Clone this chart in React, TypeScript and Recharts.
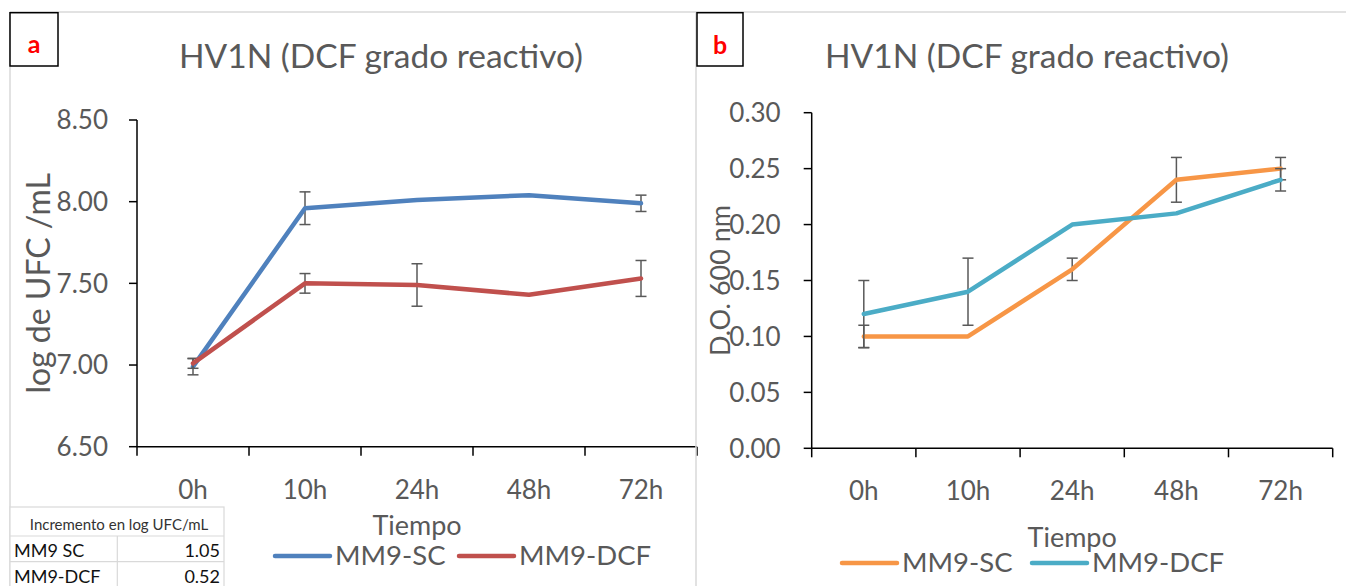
import React from 'react';
import { LineChart, Line, XAxis, YAxis, ErrorBar } from 'recharts';

const tiempos = ['0h', '10h', '24h', '48h', '72h'];

// a: log UFC/mL
const ufcSC = [6.99, 7.96, 8.01, 8.04, 7.99];
const ufcSCErr = [0.05, 0.1, null, null, 0.05];
const ufcDCF = [7.01, 7.5, 7.49, 7.43, 7.53];
const ufcDCFErr = [0.03, 0.06, 0.13, null, 0.11];
const ufcTicks = [6.5, 7, 7.5, 8, 8.5];

// b: D.O. 600 nm
const doSC = [0.1, 0.1, 0.16, 0.24, 0.25];
const doSCErr = [0.01, null, 0.01, 0.02, 0.01];
const doDCF = [0.12, 0.14, 0.2, 0.21, 0.24];
const doDCFErr = [0.03, 0.03, null, null, 0.01];
const doTicks = [0, 0.05, 0.1, 0.15, 0.2, 0.25, 0.3];

const incrementoLabels = ['MM9 SC', 'MM9-DCF'];
const incrementoValues = ['1.05', '0.52'];

const dataA = tiempos.map((t, i) => ({
  t, sc: ufcSC[i], scErr: ufcSCErr[i], dcf: ufcDCF[i], dcfErr: ufcDCFErr[i],
}));
const dataB = tiempos.map((t, i) => ({
  t, sc: doSC[i], scErr: doSCErr[i], dcf: doDCF[i], dcfErr: doDCFErr[i],
}));

const FONT = 'Lato, "Open Sans", sans-serif';
const GRAY = '#595959';

function makeTick(band: number, count: number) {
  return (props: any) => {
    const { x, y, payload, index } = props;
    return (
      <g>
        <line x1={x - band / 2} x2={x - band / 2} y1={y} y2={y + 9} stroke="#000" strokeWidth={1.5} />
        {index === count - 1 && (
          <line x1={x + band / 2} x2={x + band / 2} y1={y} y2={y + 9} stroke="#000" strokeWidth={1.5} />
        )}
        <text x={x} y={y + 52} textAnchor="middle" fill={GRAY} fontSize={26} fontFamily={FONT}>
          {payload.value}
        </text>
      </g>
    );
  };
}

function yTitle(text: string, cx: number, size: number) {
  return (props: any) => {
    const vb = props.viewBox;
    const cy = vb.y + vb.height / 2;
    return (
      <text x={cx} y={cy} transform={`rotate(-90 ${cx} ${cy})`} textAnchor="middle"
        dominantBaseline="central" fill={GRAY} fontSize={size} fontFamily={FONT}>
        {text}
      </text>
    );
  };
}

interface PanelProps {
  data: any[];
  left: number;
  width: number;
  margin: { top: number; right: number; bottom: number; left: number };
  yWidth: number;
  domain: [number, number];
  ticks: number[];
  tickMargin: number;
  colors: [string, string];
  yLabel: string;
  yLabelX: number;
  yLabelSize: number;
  tiempoOffset: number;
}

function Panel(p: PanelProps) {
  const plotW = p.width - p.margin.left - p.margin.right - p.yWidth;
  const band = plotW / tiempos.length;
  return (
    <div style={{ position: 'absolute', left: p.left, top: 0 }}>
      <LineChart width={p.width} height={586} data={p.data} margin={p.margin}>
        <XAxis
          dataKey="t"
          stroke="#000"
          strokeWidth={1.5}
          tickLine={false}
          tickSize={0}
          tickMargin={0}
          height={100}
          interval={0}
          padding={{ left: band / 2, right: band / 2 }}
          tick={makeTick(band, tiempos.length)}
          label={{ value: 'Tiempo', position: 'insideBottom', offset: p.tiempoOffset, fill: GRAY, fontSize: 27, fontFamily: FONT }}
        />
        <YAxis
          width={p.yWidth}
          domain={p.domain}
          ticks={p.ticks}
          interval={0}
          stroke="#000"
          strokeWidth={1.5}
          tickSize={8}
          tickMargin={p.tickMargin}
          tickFormatter={(v: number) => v.toFixed(2)}
          tick={{ fill: GRAY, fontSize: 26, fontFamily: FONT }}
          label={yTitle(p.yLabel, p.yLabelX, p.yLabelSize)}
        />
        <Line dataKey="sc" stroke={p.colors[0]} strokeWidth={4.5} strokeLinecap="round" strokeLinejoin="round"
          dot={false} activeDot={false} isAnimationActive={false}>
          <ErrorBar dataKey="scErr" width={5.5} strokeWidth={1.5} stroke={GRAY} direction="y" />
        </Line>
        <Line dataKey="dcf" stroke={p.colors[1]} strokeWidth={4.5} strokeLinecap="round" strokeLinejoin="round"
          dot={false} activeDot={false} isAnimationActive={false}>
          <ErrorBar dataKey="dcfErr" width={5.5} strokeWidth={1.5} stroke={GRAY} direction="y" />
        </Line>
      </LineChart>
    </div>
  );
}

function LegendRow({ items, starts, y }: { items: { name: string; color: string }[]; starts: number[]; y: number }) {
  return (
    <g>
      {items.map((it, i) => (
        <g key={it.name}>
          <line x1={starts[i]} x2={starts[i] + 55} y1={y} y2={y} stroke={it.color} strokeWidth={4.5} strokeLinecap="round" />
          <text x={starts[i] + 60} y={y + 9} fill={GRAY} fontSize={27.5} fontFamily={FONT}>{it.name}</text>
        </g>
      ))}
    </g>
  );
}

export default function App() {
  const legendA = [{ name: 'MM9-SC', color: '#4F81BD' }, { name: 'MM9-DCF', color: '#C0504D' }];
  const legendB = [{ name: 'MM9-SC', color: '#F79646' }, { name: 'MM9-DCF', color: '#4BACC6' }];
  return (
    <div style={{ position: 'absolute', left: 0, top: 0, width: 1346, height: 586, background: '#fff', overflow: 'hidden' }}>
      <Panel
        data={dataA} left={0} width={700}
        margin={{ top: 120, right: 3, bottom: 39.3, left: 0 }}
        yWidth={137} domain={[6.5, 8.5]} ticks={ufcTicks} tickMargin={21}
        colors={['#4F81BD', '#C0504D']} yLabel="log de UFC /mL" yLabelX={38} yLabelSize={32}
        tiempoOffset={11.7}
      />
      <Panel
        data={dataB} left={696} width={650}
        margin={{ top: 112.7, right: 13.3, bottom: 37.7, left: 0 }}
        yWidth={115.7} domain={[0, 0.3]} ticks={doTicks} tickMargin={23}
        colors={['#F79646', '#4BACC6']} yLabel="D.O. 600 nm" yLabelX={23.6} yLabelSize={27}
        tiempoOffset={1.6}
      />
      <svg width={1346} height={586} style={{ position: 'absolute', left: 0, top: 0, pointerEvents: 'none' }}>
        <line x1={10} x2={1346} y1={12} y2={12} stroke="#d9d9d9" strokeWidth={1.5} />
        <line x1={10} x2={10} y1={12} y2={586} stroke="#d9d9d9" strokeWidth={1.5} />
        <line x1={696} x2={696} y1={12} y2={586} stroke="#d9d9d9" strokeWidth={1.5} />

        <rect x={10} y={12.7} width={48} height={53.3} fill="#fff" stroke="#000" strokeWidth={1.5} />
        <text x={34} y={53} textAnchor="middle" fill="#ff0000" fontWeight="bold" fontSize={25} fontFamily={FONT}>a</text>
        <rect x={697} y={12.7} width={46} height={53.3} fill="#fff" stroke="#000" strokeWidth={1.5} />
        <text x={720} y={54} textAnchor="middle" fill="#ff0000" fontWeight="bold" fontSize={25} fontFamily={FONT}>b</text>

        <text x={381} y={68} textAnchor="middle" fill={GRAY} fontSize={33.5} fontFamily={FONT}>HV1N (DCF grado reactivo)</text>
        <text x={1027} y={68} textAnchor="middle" fill={GRAY} fontSize={33.5} fontFamily={FONT}>HV1N (DCF grado reactivo)</text>

        <LegendRow items={legendA} starts={[275, 459]} y={556} />
        <LegendRow items={legendB} starts={[842, 1032]} y={563} />

        <g fontFamily={FONT}>
          <rect x={10} y={507} width={214} height={82} fill="#fff" stroke="#d9d9d9" strokeWidth={1.2} />
          <line x1={10} x2={224} y1={536} y2={536} stroke="#d9d9d9" strokeWidth={1.2} />
          <line x1={10} x2={224} y1={561.7} y2={561.7} stroke="#d9d9d9" strokeWidth={1.2} />
          <line x1={117.3} x2={117.3} y1={536} y2={586} stroke="#d9d9d9" strokeWidth={1.2} />
          <text x={119} y={530} textAnchor="middle" fill="#333" fontSize={15}>Incremento en log UFC/mL</text>
          {incrementoLabels.map((l, i) => (
            <g key={l}>
              <text x={14} y={557 + i * 26} fill="#111" fontSize={18}>{l}</text>
              <text x={220} y={557 + i * 26} textAnchor="end" fill="#111" fontSize={18}>{incrementoValues[i]}</text>
            </g>
          ))}
        </g>
      </svg>
    </div>
  );
}
